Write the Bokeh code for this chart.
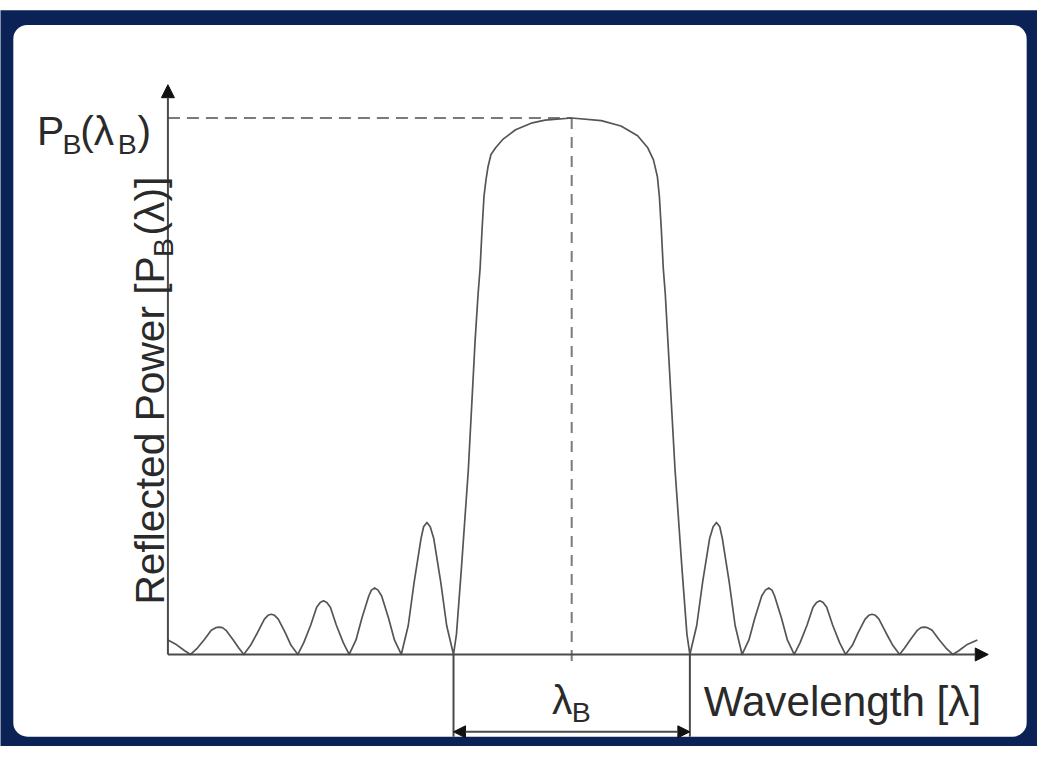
import math
from bokeh.plotting import figure
from bokeh.models import Range1d, Arrow, NormalHead, Label
from bokeh.embed import file_html
from bokeh.resources import INLINE

# ---------------- data (normalised wavelength offset from lambda_B, normalised power) ----------------
wavelength = [
    -3.417, -3.342, -3.275, -3.225,
    -3.167, -3.108, -3.050, -3.011, -2.983, -2.955, -2.925, -2.867, -2.817, -2.775,
    -2.717, -2.658, -2.600, -2.570, -2.542, -2.514, -2.483, -2.425, -2.375, -2.317,
    -2.267, -2.208, -2.158, -2.128, -2.100, -2.072, -2.042, -1.992, -1.933, -1.883,
    -1.825, -1.775, -1.717, -1.695, -1.667, -1.639, -1.608, -1.550, -1.500, -1.442,
    -1.383, -1.333, -1.275, -1.253, -1.225, -1.197, -1.167, -1.108, -1.058, -1.000,
    -0.975, -0.933, -0.875, -0.817, -0.792, -0.775, -0.758, -0.742, -0.725, -0.708,
    -0.683, -0.642, -0.583, -0.475, -0.333, -0.225, 0.000,
    0.250, 0.417, 0.558, 0.642, 0.692, 0.725, 0.742, 0.758, 0.775, 0.792,
    0.875, 0.933, 0.975, 1.000,
    1.058, 1.108, 1.167, 1.197, 1.225, 1.253, 1.275, 1.333, 1.383, 1.442,
    1.500, 1.550, 1.608, 1.639, 1.667, 1.695, 1.717, 1.775, 1.825, 1.883,
    1.933, 1.992, 2.042, 2.072, 2.100, 2.128, 2.158, 2.208, 2.267, 2.317,
    2.375, 2.425, 2.483, 2.514, 2.542, 2.570, 2.600, 2.658, 2.717, 2.775,
    2.817, 2.867, 2.925, 2.955, 2.983, 3.011, 3.050, 3.108, 3.167, 3.225,
    3.275, 3.342, 3.433,
]
reflected_power = [
    0.027, 0.018, 0.007, 0.000,
    0.012, 0.028, 0.045, 0.050, 0.051, 0.050, 0.045, 0.028, 0.012, 0.000,
    0.017, 0.041, 0.066, 0.073, 0.075, 0.073, 0.066, 0.041, 0.017, 0.000,
    0.022, 0.055, 0.088, 0.097, 0.100, 0.097, 0.088, 0.055, 0.022, 0.000,
    0.027, 0.068, 0.109, 0.120, 0.124, 0.120, 0.109, 0.068, 0.027, 0.000,
    0.054, 0.135, 0.216, 0.238, 0.246, 0.238, 0.216, 0.135, 0.054, 0.000,
    0.038, 0.161, 0.343, 0.586, 0.672, 0.720, 0.794, 0.854, 0.885, 0.909,
    0.932, 0.945, 0.960, 0.978, 0.991, 0.996, 1.000,
    0.995, 0.985, 0.967, 0.945, 0.922, 0.891, 0.854, 0.794, 0.720, 0.672,
    0.343, 0.161, 0.038, 0.000,
    0.054, 0.135, 0.216, 0.238, 0.246, 0.238, 0.216, 0.135, 0.054, 0.000,
    0.027, 0.068, 0.109, 0.120, 0.124, 0.120, 0.109, 0.068, 0.027, 0.000,
    0.022, 0.055, 0.088, 0.097, 0.100, 0.097, 0.088, 0.055, 0.022, 0.000,
    0.017, 0.041, 0.066, 0.073, 0.075, 0.073, 0.066, 0.041, 0.017, 0.000,
    0.012, 0.028, 0.045, 0.050, 0.051, 0.050, 0.045, 0.028, 0.012, 0.000,
    0.007, 0.018, 0.027,
]
bragg_wavelength = 0.0
peak_power = 1.0
band_edges = [-1.0, 1.0]

# ---------------- layout helpers (reference-image pixels -> data units) ----------------
W, H = 1037, 746
REF_W, REF_H = 1053, 762
K = (W / REF_W + H / REF_H) / 2.0   # pixel-size scale factor


def X(px):
    return (px - 580) / 120.0


def Y(py):
    return (668 - py) / 548.0


NAVY = "#0b2256"
CURVE = "#555555"
AXIS = "#4a4a4a"
DASH = "#7a7a7a"
TEXT = "#2a2a2a"
FONT = "Liberation Sans"

p = figure(width=W, height=H,
           x_range=Range1d(X(0), X(REF_W)), y_range=Range1d(Y(REF_H), Y(0)),
           output_backend="svg", toolbar_location=None,
           x_axis_location=None, y_axis_location=None, min_border=0,
           outline_line_color=None, background_fill_color="white",
           border_fill_color="white")
p.grid.visible = False

# frame
p.quad(left=[X(-20)], right=[X(1080)], top=[Y(10)], bottom=[Y(790)],
       fill_color=NAVY, line_color=None)
p.quad(left=[X(13)], right=[X(1042)], top=[Y(25)], bottom=[Y(752)],
       fill_color="white", line_color=None, border_radius=14)

# dashed guide lines
p.segment(x0=[X(170)], y0=[peak_power], x1=[bragg_wavelength], y1=[peak_power],
          line_color=DASH, line_width=2, line_dash="12 7")
p.segment(x0=[bragg_wavelength], y0=[peak_power], x1=[bragg_wavelength], y1=[Y(682)],
          line_color=DASH, line_width=2, line_dash="11 8")

# band-edge verticals
p.segment(x0=band_edges, y0=[0, 0], x1=band_edges, y1=[Y(752), Y(752)],
          line_color=AXIS, line_width=2)

# spectrum
p.line(wavelength, reflected_power, line_color=CURVE, line_width=1.7,
       line_join="round")

# axes with arrows
head = dict(fill_color="#111111", line_color="#111111")
p.add_layout(Arrow(end=NormalHead(size=13, **head), x_start=X(170), y_start=0,
                   x_end=X(1003), y_end=0, line_color=AXIS, line_width=2))
p.add_layout(Arrow(end=NormalHead(size=13, **head), x_start=X(170), y_start=0,
                   x_end=X(170), y_end=Y(86), line_color=AXIS, line_width=2))
# bandwidth double arrow
p.add_layout(Arrow(start=NormalHead(size=12, **head), end=NormalHead(size=12, **head),
                   x_start=band_edges[0], y_start=Y(747), x_end=band_edges[1], y_end=Y(747),
                   line_color=AXIS, line_width=2))


def lab(px, py, text, size, angle=0.0):
    p.add_layout(Label(x=X(px), y=Y(py), text=text, angle=angle,
                       text_font=FONT, text_font_size=f"{size * K:.1f}px",
                       text_color=TEXT, text_align="left", text_baseline="alphabetic"))


BIG, SUB = 41.5, 29
# P_B(lambda_B)
lab(37, 133, "P", BIG)
lab(63, 147, "B", SUB)
lab(81, 133, "(λ", BIG)
lab(119, 147, "B", SUB)
lab(139, 133, ")", BIG)
# lambda_B
lab(560, 715, "λ", BIG)
lab(580, 727, "B", SUB)
# x label
lab(714, 716, "Wavelength [λ]", 43)
# y label (rotated)
lab(152, 617, "Reflected Power [P", BIG, math.pi / 2)
lab(165, 262, "B", SUB, math.pi / 2)
lab(152, 240, "(λ)]", BIG, math.pi / 2)

open("out.html", "w").write(file_html(p, INLINE))
